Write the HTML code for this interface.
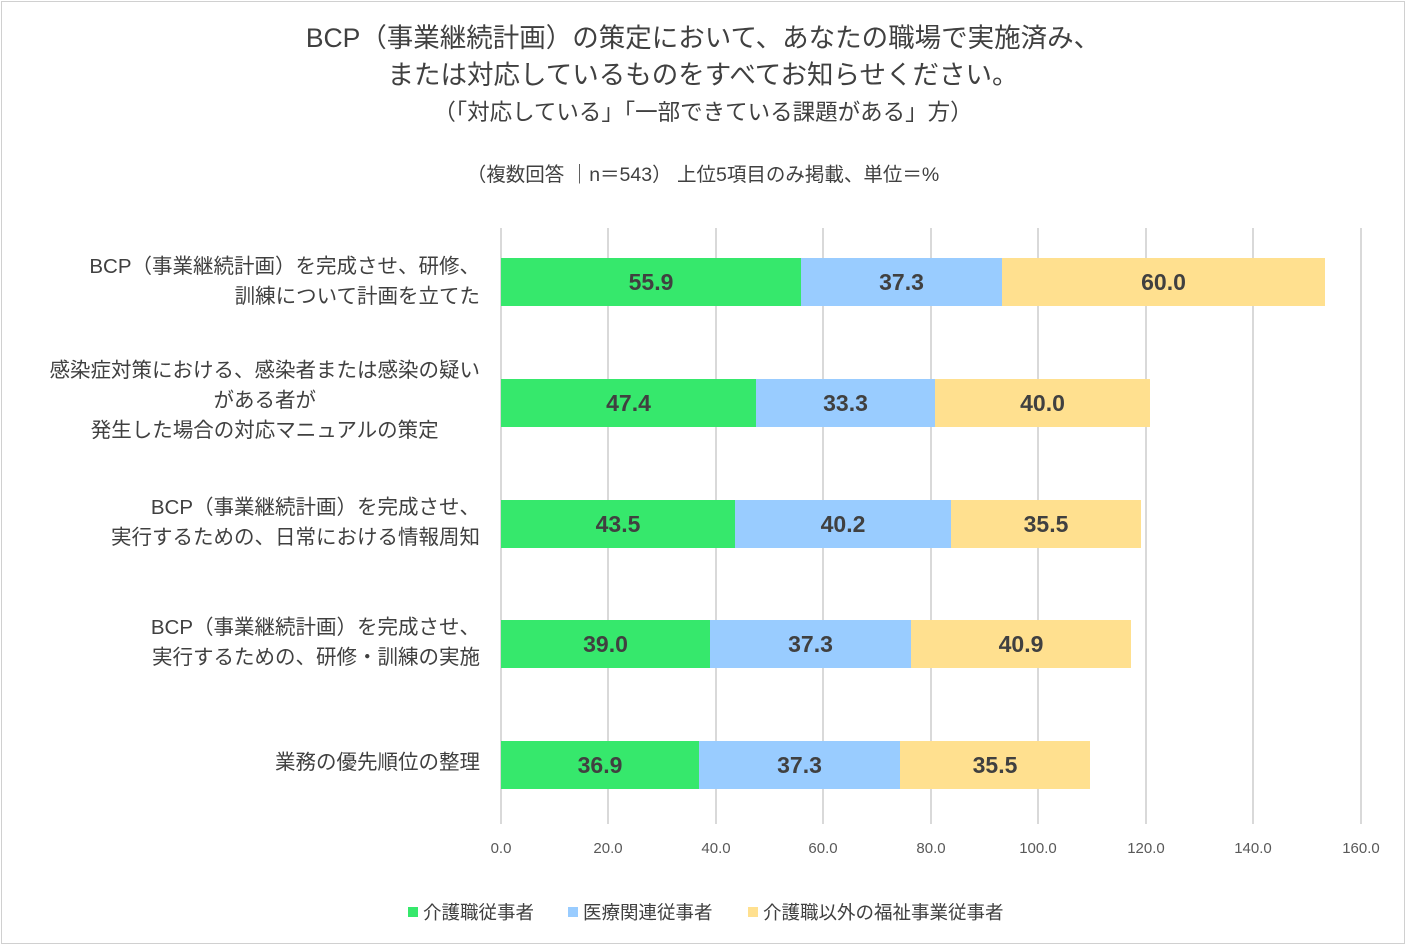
<!DOCTYPE html><html><head><meta charset="utf-8"><style>
body{margin:0;width:1406px;height:945px;background:#fff;font-family:"Liberation Sans","Noto Sans CJK JP",sans-serif;color:#404040;position:relative;overflow:hidden}
.frame{position:absolute;left:1px;top:1px;width:1402px;height:941px;border:1px solid #d0d0d0}
.t{position:absolute;left:0;width:1406px;text-align:center}
.g{position:absolute;top:228px;height:596px;width:2px;background:#d9d9d9}
.b{position:absolute;height:48px;font-weight:bold;font-size:23px;color:#404040;display:flex;align-items:center;justify-content:center}
.x{position:absolute;top:840px;font-size:15px;width:60px;margin-left:-30px;text-align:center;color:#595959}
.lab{position:absolute;right:926px;text-align:right;font-size:20.5px;line-height:30px;color:#404040;white-space:nowrap}
.lg{position:absolute;top:899px;font-size:18.5px;color:#404040}
.lg i{display:inline-block;width:10px;height:10px;margin-right:5px;vertical-align:2px}
</style></head><body><div class="frame"></div>
<div class="t" style="top:20px;font-size:26.5px;line-height:37px">BCP（事業継続計画）の策定において、あなたの職場で実施済み、<br>または対応しているものをすべてお知らせください。</div>
<div class="t" style="top:95px;font-size:22.5px">（「対応している」「一部できている課題がある」方）</div>
<div class="t" style="top:158px;font-size:19.5px">（複数回答 ｜n＝543） 上位5項目のみ掲載、単位＝%</div>
<div class="g" style="left:500px"></div><div class="g" style="left:607px"></div><div class="g" style="left:715px"></div><div class="g" style="left:822px"></div><div class="g" style="left:930px"></div><div class="g" style="left:1037px"></div><div class="g" style="left:1145px"></div><div class="g" style="left:1252px"></div><div class="g" style="left:1360px"></div>
<div class="x" style="left:501px">0.0</div><div class="x" style="left:608px">20.0</div><div class="x" style="left:716px">40.0</div><div class="x" style="left:823px">60.0</div><div class="x" style="left:931px">80.0</div><div class="x" style="left:1038px">100.0</div><div class="x" style="left:1146px">120.0</div><div class="x" style="left:1253px">140.0</div><div class="x" style="left:1361px">160.0</div>

<div class="b" style="top:258px;left:501px;width:300px;background:#36E86C">55.9</div>
<div class="b" style="top:258px;left:801px;width:201px;background:#99CCFF">37.3</div>
<div class="b" style="top:258px;left:1002px;width:323px;background:#FFE08F">60.0</div>

<div class="b" style="top:379px;left:501px;width:255px;background:#36E86C">47.4</div>
<div class="b" style="top:379px;left:756px;width:179px;background:#99CCFF">33.3</div>
<div class="b" style="top:379px;left:935px;width:215px;background:#FFE08F">40.0</div>

<div class="b" style="top:500px;left:501px;width:234px;background:#36E86C">43.5</div>
<div class="b" style="top:500px;left:735px;width:216px;background:#99CCFF">40.2</div>
<div class="b" style="top:500px;left:951px;width:190px;background:#FFE08F">35.5</div>

<div class="b" style="top:620px;left:501px;width:209px;background:#36E86C">39.0</div>
<div class="b" style="top:620px;left:710px;width:201px;background:#99CCFF">37.3</div>
<div class="b" style="top:620px;left:911px;width:220px;background:#FFE08F">40.9</div>

<div class="b" style="top:741px;left:501px;width:198px;background:#36E86C">36.9</div>
<div class="b" style="top:741px;left:699px;width:201px;background:#99CCFF">37.3</div>
<div class="b" style="top:741px;left:900px;width:190px;background:#FFE08F">35.5</div>

<div class="lab" style="top:252px">BCP（事業継続計画）を完成させ、研修、<br>訓練について計画を立てた</div>
<div class="lab" style="top:356px;text-align:center">感染症対策における、感染者または感染の疑い<br>がある者が<br>発生した場合の対応マニュアルの策定</div>
<div class="lab" style="top:493px">BCP（事業継続計画）を完成させ、<br>実行するための、日常における情報周知</div>
<div class="lab" style="top:613px">BCP（事業継続計画）を完成させ、<br>実行するための、研修・訓練の実施</div>
<div class="lab" style="top:748px">業務の優先順位の整理</div>

<div class="lg" style="left:408px"><i style="background:#36E86C"></i>介護職従事者</div>
<div class="lg" style="left:568px"><i style="background:#99CCFF"></i>医療関連従事者</div>
<div class="lg" style="left:748px"><i style="background:#FFE08F"></i>介護職以外の福祉事業従事者</div>
</body></html>
